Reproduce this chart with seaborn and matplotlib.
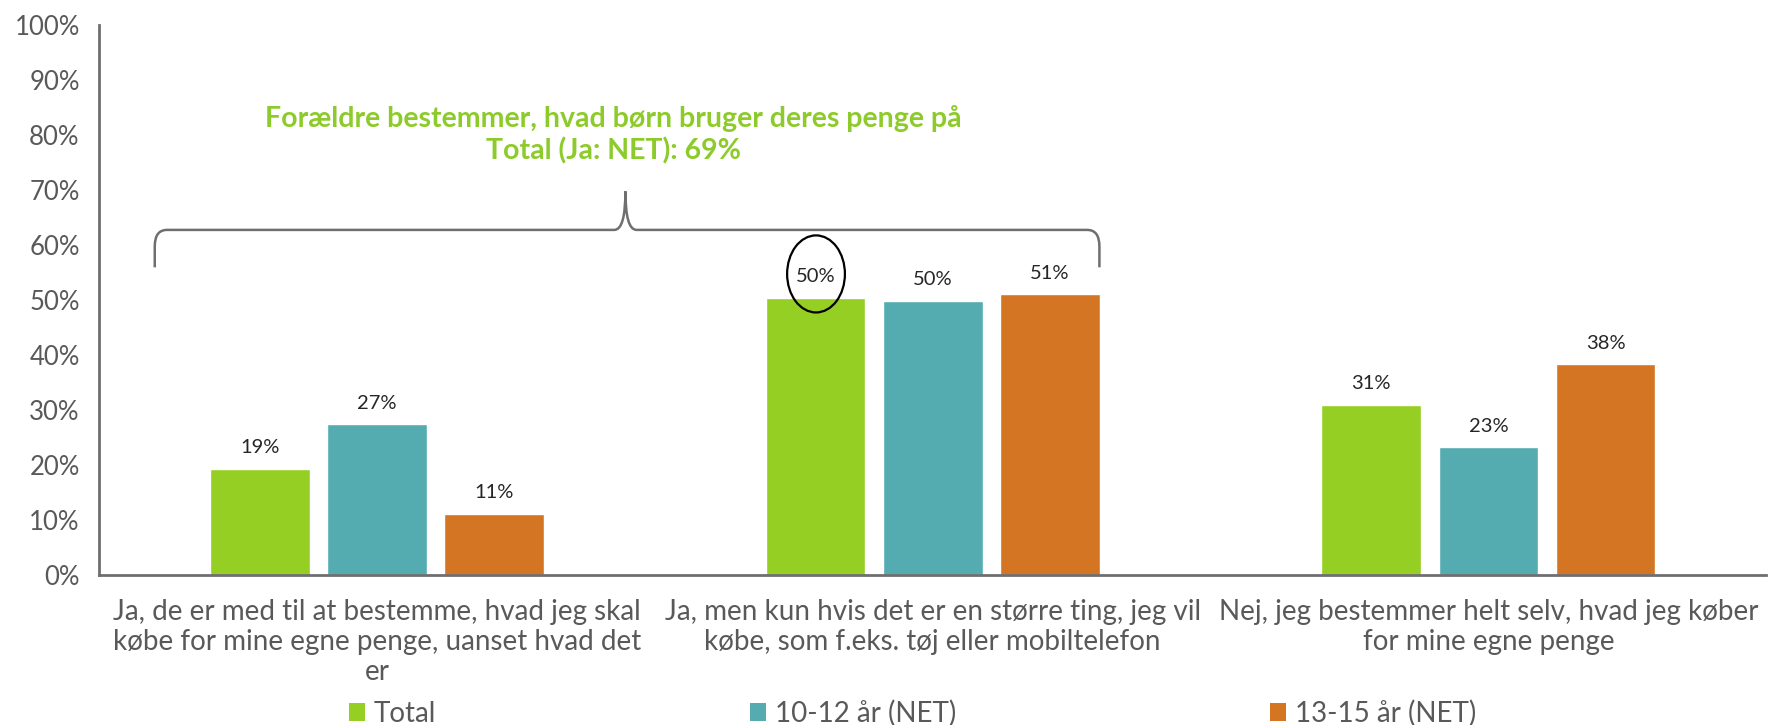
import matplotlib
matplotlib.use("Agg")
import matplotlib.pyplot as plt
import seaborn as sns
import pandas as pd
from matplotlib.path import Path
from matplotlib.patches import PathPatch, Ellipse, Patch

categories = [
    "Ja, de er med til at bestemme, hvad jeg skal\nkøbe for mine egne penge, uanset hvad det\ner",
    "Ja, men kun hvis det er en større ting, jeg vil\nkøbe, som f.eks. tøj eller mobiltelefon",
    "Nej, jeg bestemmer helt selv, hvad jeg køber\nfor mine egne penge",
]
series_names = ["Total", "10-12 år (NET)", "13-15 år (NET)"]
total_vals = [19.3, 50.4, 30.9]
age_10_12_vals = [27.4, 49.8, 23.2]
age_13_15_vals = [11.1, 51.0, 38.3]
yticks = [0, 10, 20, 30, 40, 50, 60, 70, 80, 90, 100]
annotation_lines = ["Forældre bestemmer, hvad børn bruger deres penge på",
                    "Total (Ja: NET): 69%"]

colors = ["#95CF24", "#54ACB1", "#D47524"]

sns.set_style("white")
plt.rcParams["font.family"] = ["Lato", "DejaVu Sans"]

rows = []
for name, vals in zip(series_names, [total_vals, age_10_12_vals, age_13_15_vals]):
    for c, v in zip(categories, vals):
        rows.append({"cat": c, "series": name, "value": v})
df = pd.DataFrame(rows)

fig = plt.figure(figsize=(17.68, 7.25), dpi=100)
ax = fig.add_axes([0.0561, 0.207, 0.9429, 0.759])

sns.barplot(data=df, x="cat", y="value", hue="series", palette=colors,
            width=0.633, gap=0.15, ax=ax, legend=False, saturation=1,
            errorbar=None)

for cont in ax.containers:
    ax.bar_label(cont, labels=[f"{round(v.get_height()):.0f}%" for v in cont],
                 padding=9, fontsize=14.5, color="#262626")

ax.set_xlim(-0.5, 2.5)
ax.set_ylim(0, 100)
ax.set_yticks(yticks)
ax.set_yticklabels([f"{t}%" for t in yticks], fontsize=18.5, color="#595959")
ax.tick_params(axis="y", length=0, pad=14)
ax.tick_params(axis="x", length=0, pad=17)
ax.set_xticks(range(len(categories)))
ax.set_xticklabels(categories, fontsize=20, color="#595959", linespacing=1.2)
ax.set_xlabel("")
ax.set_ylabel("")
for s in ["top", "right"]:
    ax.spines[s].set_visible(False)
for s in ["left", "bottom"]:
    ax.spines[s].set_color("#6f6f6f")
    ax.spines[s].set_linewidth(2)

# brace
x0, x1, xp = -0.40, 1.30, 0.447
yb, yh, yp = 55.9, 62.7, 69.7
rx, ry = 0.022, 3.0
verts = [
    (x0, yb), (x0, yh - ry), (x0, yh), (x0 + rx, yh),
    (xp - 0.02, yh), (xp, yh), (xp, yp),
    (xp, yh), (xp + 0.02, yh),
    (x1 - rx, yh), (x1, yh), (x1, yh - ry), (x1, yb),
]
codes = [Path.MOVETO, Path.LINETO, Path.CURVE3, Path.CURVE3,
         Path.LINETO, Path.CURVE3, Path.CURVE3,
         Path.CURVE3, Path.CURVE3,
         Path.LINETO, Path.CURVE3, Path.CURVE3, Path.LINETO]
ax.add_patch(PathPatch(Path(verts, codes), facecolor="none", edgecolor="#6f6f6f",
                       lw=1.8, clip_on=False))

ax.text(0.425, 80.0, "\n".join(annotation_lines), ha="center", va="center",
        fontsize=20.5, fontweight="bold", color="#8DCB2A", linespacing=1.25)

# ellipse around 50% total label
ax.add_patch(Ellipse((0.79, 54.7), 0.104, 14.0, facecolor="none",
                     edgecolor="black", lw=1.6, clip_on=False))

handles = [Patch(facecolor=c, edgecolor="none", label=n)
           for c, n in zip(colors, series_names)]
fig.legend(handles=handles, loc="lower left", ncol=3, mode="expand",
           bbox_to_anchor=(0.191, -0.018, 0.65, 0.05), frameon=False,
           handlelength=0.6, handleheight=0.6, handletextpad=0.3,
           borderaxespad=0, labelcolor="#595959", prop={"size": 20})

fig.savefig("out.png", dpi=100)
